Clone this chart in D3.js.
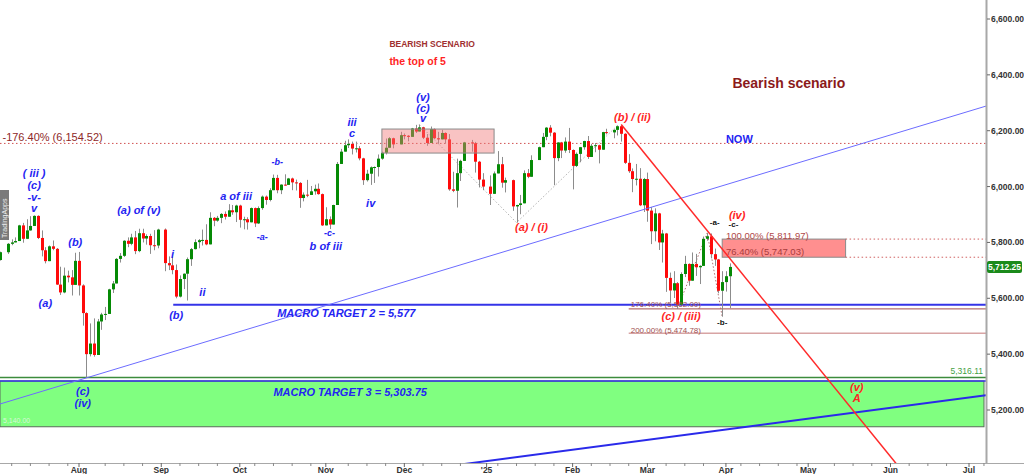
<!DOCTYPE html>
<html>
<head>
<meta charset="utf-8">
<script src="https://cdn.jsdelivr.net/npm/d3@7"></script>
<style>
  body { margin: 0; background: #fff; }
  svg { display: block; font-family: "Liberation Sans", Arial, sans-serif; }
</style>
</head>
<body>
<svg id="chart" width="1024" height="474"></svg>
<script>
// ---- data ----
var firstDay = "2024-07-01", lastDay = "2025-04-02";
var holidays = ["2024-07-04", "2024-09-02", "2024-11-28", "2024-12-25",
                "2025-01-01", "2025-01-09", "2025-01-20", "2025-02-17"];

// daily bars [open, high, low, close], one per trading day
var ohlc = [
  // Jul
  [5688,5718,5680,5703],[5703,5738,5679,5737],[5737,5767,5735,5765],[5765,5798,5759,5795],
  [5795,5811,5790,5800],[5800,5818,5800,5805],[5805,5863,5805,5861],[5861,5870,5799,5813],
  [5813,5883,5812,5843],[5843,5894,5842,5859],[5859,5897,5859,5895],[5895,5897,5812,5816],
  [5816,5843,5750,5772],[5772,5783,5725,5733],[5733,5789,5733,5786],[5786,5807,5772,5777],
  [5777,5780,5648,5649],[5649,5713,5612,5621],[5621,5710,5618,5681],[5681,5699,5657,5675],
  [5675,5701,5610,5648],[5648,5763,5648,5734],
  // Aug
  [5734,5766,5610,5646],[5646,5650,5502,5547],[5547,5550,5315,5400],[5400,5510,5392,5438],
  [5438,5528,5391,5397],[5397,5526,5397,5517],[5517,5548,5487,5542],[5542,5569,5522,5544],
  [5544,5634,5544,5632],[5632,5662,5619,5653],[5653,5744,5653,5741],[5741,5762,5728,5752],
  [5752,5808,5748,5806],[5806,5818,5783,5795],[5795,5831,5790,5818],[5818,5841,5758,5769],
  [5769,5849,5765,5833],[5833,5849,5800,5814],[5814,5829,5792,5823],[5823,5831,5759,5790],
  [5790,5844,5772,5789],[5789,5849,5779,5846],
  // Sep
  [5846,5850,5697,5726],[5726,5750,5701,5718],[5718,5749,5686,5701],[5701,5721,5600,5606],
  [5606,5682,5603,5669],[5669,5689,5633,5688],[5688,5746,5592,5740],[5740,5780,5716,5776],
  [5776,5811,5775,5801],[5801,5812,5779,5808],[5808,5846,5789,5809],[5809,5865,5790,5793],
  [5793,5908,5793,5888],[5888,5891,5858,5878],[5878,5895,5874,5888],[5888,5905,5869,5902],
  [5902,5911,5882,5892],[5892,5937,5892,5915],[5915,5934,5899,5908],[5908,5935,5873,5932],
  // Oct
  [5932,5935,5853,5881],[5881,5892,5847,5883],[5883,5890,5846,5872],[5872,5925,5872,5923],
  [5923,5925,5855,5868],[5868,5929,5866,5923],[5923,5968,5917,5964],[5964,5968,5935,5952],
  [5952,5994,5947,5987],[5987,6043,5987,6031],[6031,6042,5976,5987],[5987,6008,5973,6007],
  [6007,6044,6003,6006],[6006,6031,6006,6029],[6029,6032,5987,6015],[6015,6025,5986,6013],
  [6013,6016,5924,5959],[5959,5979,5947,5971],[5971,6024,5962,5970],[5970,6002,5970,5983],
  [5983,6007,5971,5992],[5992,6011,5971,5973],[5973,5975,5859,5861],
  // Nov
  [5861,5926,5861,5883],[5883,5893,5848,5864],[5864,5935,5864,5934],[5934,6088,5934,6081],
  [6081,6135,6081,6125],[6125,6164,6125,6148],[6148,6169,6138,6153],[6153,6161,6115,6136],
  [6136,6161,6122,6137],[6137,6145,6094,6101],[6101,6103,6006,6023],[6023,6060,6018,6046],
  [6046,6072,6006,6069],[6069,6072,6013,6070],[6070,6115,6036,6100],[6100,6125,6096,6121],
  [6121,6172,6115,6139],[6139,6177,6139,6173],[6173,6175,6137,6151],[6151,6196,6151,6184],
  // Dec
  [6184,6190,6169,6182],[6182,6184,6162,6178],[6178,6210,6178,6208],[6208,6221,6192,6197],
  [6197,6222,6197,6212],[6212,6214,6170,6175],[6175,6188,6146,6156],[6156,6215,6156,6206],
  [6206,6208,6170,6173],[6173,6196,6153,6169],[6169,6203,6169,6192],[6192,6194,6154,6169],
  [6169,6188,5985,5990],[5990,6053,5980,5985],[5985,6100,5925,6048],[6048,6096,6020,6092],
  [6092,6160,6092,6158],[6158,6167,6125,6155],[6155,6160,6050,6089],[6089,6092,5997,6025],
  [6025,6048,5987,6000],
  // Jan
  [6000,6040,5934,5974],[5974,6054,5974,6047],[6047,6127,6047,6080],[6080,6106,5996,6014],
  [6014,6032,5979,6023],[6023,6025,5913,5929],[5929,5935,5871,5934],[5934,5970,5901,5940],
  [5940,6058,5940,6048],[6048,6063,6030,6035],[6035,6112,6035,6095],[6095,6143,6095,6141],
  [6141,6192,6141,6178],[6178,6213,6166,6211],[6211,6220,6180,6193],[6193,6195,6005,6102],
  [6102,6159,6091,6158],[6158,6160,6102,6129],[6129,6176,6121,6161],[6161,6210,6120,6131],
  // Feb
  [6131,6133,5990,6074],[6074,6122,6070,6117],[6117,6142,6087,6141],[6141,6164,6132,6163],
  [6163,6181,6099,6106],[6106,6153,6106,6146],[6146,6156,6123,6148],[6148,6150,6083,6132],
  [6132,6196,6132,6195],[6195,6207,6187,6194],[6194,6205,6173,6203],[6203,6219,6183,6216],
  [6216,6218,6161,6189],[6189,6191,6081,6085],[6085,6116,6049,6055],[6055,6065,5980,6027],
  [6027,6081,6004,6028],[6028,6066,5930,5933],[5933,6031,5909,6027],
  // Mar
  [6027,6050,5874,5914],[5914,5927,5794,5840],[5840,5922,5804,5904],[5904,5906,5773,5800],
  [5800,5845,5728,5832],[5832,5834,5623,5673],[5673,5692,5584,5628],[5628,5697,5601,5654],
  [5654,5658,5562,5577],[5577,5693,5577,5687],[5687,5752,5676,5723],[5723,5725,5645,5663],
  [5663,5764,5663,5723],[5723,5759,5680,5711],[5711,5718,5651,5716],[5716,5821,5716,5813],
  [5813,5834,5806,5822],[5822,5832,5743,5758],[5758,5778,5716,5739],[5739,5741,5618,5627],
  [5627,5697,5534,5658],
  // Apr
  [5658,5697,5624,5679],[5679,5725,5565,5712.25]
];
var lastPrice = 5712.25;

var yTicks = [5200, 5400, 5600, 5800, 6000, 6200, 6400, 6600];
var monthLabels = ["Aug", "Sep", "Oct", "Nov", "Dec", "'25", "Feb", "Mar", "Apr", "May", "Jun", "Jul"];
var monthStarts = ["2024-08", "2024-09", "2024-10", "2024-11", "2024-12", "2025-01",
                   "2025-02", "2025-03", "2025-04", "2025-05", "2025-06", "2025-07"];

// levels
var fibTop = 6154.52;
var fibBox = [5811.97, 5747.03];
var fibExt = [5562.00, 5474.78];
var macro2 = 5577, macro3 = 5303.75, augLow = 5316.11, zoneLow = 5140;
var topBox = [6206, 6120];

// trend lines: two anchor points each [date, value]
var thinBlue = [["2024-08-05", 5315], ["2025-07-08", 6290]];
var thickBlue = [["2024-12-26", 5010], ["2025-07-08", 5254]];
var redLine = [["2025-02-20", 6222], ["2025-05-02", 5380]];
var waveDec = [["2024-12-06", 6222], ["2025-01-13", 5871], ["2025-02-19", 6219]];
var waveMar = [["2025-03-13", 5562], ["2025-03-25", 5834], ["2025-03-31", 5534]];

// wave labels [text, date, value]
var blueLabels = [
  ["( iii )", "2024-07-16", 6049], ["(c)", "2024-07-16", 6006], ["-v-", "2024-07-16", 5963], ["v", "2024-07-16", 5923],
  ["(b)", "2024-07-31", 5802], ["(a)", "2024-07-19", 5583], ["(a) of (v)", "2024-08-23", 5916],
  ["i", "2024-09-05", 5759], ["ii", "2024-09-17", 5623], ["(b)", "2024-09-06", 5540],
  ["(c)", "2024-08-02", 5268], ["(iv)", "2024-08-02", 5225],
  ["a of iii", "2024-09-30", 5966], ["b of iii", "2024-11-01", 5786],
  ["iii", "2024-11-12", 6231], ["c", "2024-11-12", 6192], ["iv", "2024-11-19", 5941],
  ["(v)", "2024-12-09", 6321], ["(c)", "2024-12-09", 6281], ["v", "2024-12-09", 6245]
];
var blueSmall = [["-a-", "2024-10-09", 5819], ["-b-", "2024-10-15", 6088], ["-c-", "2024-11-04", 5834]];
var redLabels = [
  ["(a) / (i)", "2025-01-17", 5855], ["(b) / (ii)", "2025-02-25", 6249],
  ["(c) / (iii)", "2025-03-14", 5537], ["(iv)", "2025-04-04", 5899],
  ["(v)", "2025-05-20", 5282], ["A", "2025-05-20", 5243]
];
var blackLabels = [["-a-", "2025-03-27", 5870], ["-c-", "2025-04-03", 5863], ["-b-", "2025-03-31", 5512]];

// ---- scales ----
var W = 1024, H = 474, axisX = 986, axisY = 463;
var parse = d3.timeParse("%Y-%m-%d"), fmt = d3.timeFormat("%Y-%m-%d");
var weekdays = d3.timeDays(parse("2024-06-24"), parse("2025-08-01"))
  .filter(function (d) { return d.getDay() % 6 !== 0; });
var pos = new Map();
weekdays.forEach(function (d, i) { pos.set(fmt(d), i); });
var i0 = pos.get("2024-08-01");
var x = d3.scaleLinear().domain([0, pos.get("2025-07-01") - i0]).range([79, 969]);
function X(s) { return x(pos.get(s) - i0); }
var y = d3.scaleLinear().domain([5200, 6600]).range([410, 19]);

var tradingDays = weekdays.map(fmt).filter(function (s) {
  return s >= firstDay && s <= lastDay && holidays.indexOf(s) < 0;
});
var bars = ohlc.map(function (c, i) {
  return { date: tradingDays[i], o: c[0], h: c[1], l: c[2], c: c[3] };
});

var svg = d3.select("#chart");
svg.append("defs").append("clipPath").attr("id", "plot")
  .append("rect").attr("x", 0).attr("y", 0).attr("width", axisX).attr("height", axisY);
var g = svg.append("g").attr("clip-path", "url(#plot)");

// ---- green target zone ----
g.append("rect")
  .attr("x", 0).attr("y", y(macro3))
  .attr("width", axisX - 2).attr("height", y(zoneLow) - y(macro3))
  .attr("fill", "#80ff80").attr("stroke", "#5a6a5a").attr("stroke-width", 1);
g.append("text").attr("x", 3).attr("y", y(zoneLow) - 4)
  .attr("font-size", 7).attr("fill", "#d8f8d8").text("5,140.00");
g.append("line").attr("x1", 0).attr("x2", axisX)
  .attr("y1", y(augLow)).attr("y2", y(augLow))
  .attr("stroke", "#3c8c3c").attr("stroke-width", 1.5);
g.append("line").attr("x1", 0).attr("x2", axisX)
  .attr("y1", y(macro3)).attr("y2", y(macro3))
  .attr("stroke", "#3434e8").attr("stroke-width", 1.5);
g.append("text").attr("x", axisX - 3).attr("y", y(augLow) - 4)
  .attr("text-anchor", "end").attr("font-size", 8.5).attr("fill", "#43a043")
  .text(d3.format(",.2f")(augLow));

// ---- horizontal levels ----
g.append("line").attr("x1", 0).attr("x2", axisX)
  .attr("y1", y(fibTop)).attr("y2", y(fibTop))
  .attr("stroke", "#d05050").attr("stroke-dasharray", "1.5,2.5");
g.append("line").attr("x1", X("2024-09-06") - 3).attr("x2", axisX)
  .attr("y1", y(macro2)).attr("y2", y(macro2))
  .attr("stroke", "#3434e8").attr("stroke-width", 2);
g.append("line").attr("x1", X("2025-02-24")).attr("x2", axisX)
  .attr("y1", y(fibExt[0])).attr("y2", y(fibExt[0]))
  .attr("stroke", "#a04a4a").attr("stroke-width", 1);
g.append("line").attr("x1", X("2025-02-24")).attr("x2", axisX)
  .attr("y1", y(fibExt[1])).attr("y2", y(fibExt[1]))
  .attr("stroke", "#d8a4a4").attr("stroke-width", 1.5);
fibBox.forEach(function (v) {
  g.append("line").attr("x1", X("2025-05-15")).attr("x2", axisX)
    .attr("y1", y(v)).attr("y2", y(v))
    .attr("stroke", "#d06060").attr("stroke-dasharray", "1.5,2.5");
});

// ---- wave dotted connectors ----
var wline = d3.line().x(function (d) { return X(d[0]); }).y(function (d) { return y(d[1]); });
g.append("path").attr("d", wline(waveDec)).attr("fill", "none")
  .attr("stroke", "#b4b4b4").attr("stroke-dasharray", "1.5,2");
g.append("path").attr("d", wline(waveMar)).attr("fill", "none")
  .attr("stroke", "#b07070").attr("stroke-dasharray", "1.5,2");

// ---- candles ----
var cg = g.append("g");
var bw = 3;
cg.selectAll("line.wick").data(bars).enter().append("line")
  .attr("x1", function (d) { return Math.round(X(d.date)) + 0.5; })
  .attr("x2", function (d) { return Math.round(X(d.date)) + 0.5; })
  .attr("y1", function (d) { return y(d.h); })
  .attr("y2", function (d) { return y(d.l); })
  .attr("stroke", "#8c8c8c").attr("stroke-width", 1);
cg.selectAll("rect.body").data(bars).enter().append("rect")
  .attr("x", function (d) { return Math.round(X(d.date)) - 1; })
  .attr("width", bw)
  .attr("y", function (d) { return y(Math.max(d.o, d.c)); })
  .attr("height", function (d) { return Math.max(1, Math.abs(y(d.o) - y(d.c))); })
  .attr("fill", function (d) { return d.c >= d.o ? "#058a05" : "#ff0a0a"; });

// ---- boxes ----
g.append("rect")
  .attr("x", X("2024-11-22")).attr("y", y(topBox[0]))
  .attr("width", X("2025-01-03") - X("2024-11-22")).attr("height", y(topBox[1]) - y(topBox[0]))
  .attr("fill", "#f27a7a").attr("fill-opacity", 0.45).attr("stroke", "#8a8a8a");
g.append("rect")
  .attr("x", X("2025-03-31")).attr("y", y(fibBox[0]))
  .attr("width", X("2025-05-15") - X("2025-03-31")).attr("height", y(fibBox[1]) - y(fibBox[0]))
  .attr("fill", "#ff6a6a").attr("fill-opacity", 0.75).attr("stroke", "#8a8a8a");

// ---- trend lines ----
function extended(pts, xFrom, xTo) {
  var xa = X(pts[0][0]), ya = y(pts[0][1]), xb = X(pts[1][0]), yb = y(pts[1][1]);
  var k = (yb - ya) / (xb - xa);
  return [[xFrom, ya + k * (xFrom - xa)], [xTo, ya + k * (xTo - xa)]];
}
var tl = d3.line();
g.append("path").attr("d", tl(extended(thinBlue, 0, axisX)))
  .attr("stroke", "#6c6cff").attr("stroke-width", 1).attr("fill", "none");
g.append("path").attr("d", tl(extended(thickBlue, 0, axisX)))
  .attr("stroke", "#2a2aea").attr("stroke-width", 2).attr("fill", "none");
g.append("path").attr("d", tl(extended(redLine, X(redLine[0][0]), axisX)))
  .attr("stroke", "#ff2a2a").attr("stroke-width", 1.5).attr("fill", "none");

// ---- text annotations ----
function addLabels(list, size, color, italic) {
  svg.append("g").selectAll("text").data(list).enter().append("text")
    .attr("x", function (d) { return X(d[1]); })
    .attr("y", function (d) { return y(d[2]); })
    .attr("text-anchor", "middle").attr("dominant-baseline", "central")
    .attr("font-size", size).attr("font-weight", "bold")
    .attr("font-style", italic ? "italic" : "normal")
    .attr("fill", color).text(function (d) { return d[0]; });
}
addLabels(blueLabels, 11, "#2424f2", true);
addLabels(blueSmall, 9, "#2424f2", true);
addLabels(redLabels, 11, "#ff2424", true);
addLabels(blackLabels, 8, "#111", false);

function note(txt, date, val, opt) {
  var t = svg.append("text").attr("x", X(date) + (opt.dx || 0)).attr("y", y(val))
    .attr("dominant-baseline", "central")
    .attr("font-size", opt.size).attr("fill", opt.color).text(txt);
  if (opt.bold) t.attr("font-weight", "bold");
  if (opt.italic) t.attr("font-style", "italic");
  if (opt.anchor) t.attr("text-anchor", opt.anchor);
  return t;
}
note("-176.40% (" + d3.format(",.2f")(fibTop) + ")", "2024-07-03", 6178, { size: 11, color: "#8e2828", dx: 2 });
note("BEARISH SCENARIO", "2024-11-26", 6510, { size: 8.5, color: "#a03030", bold: true });
note("the top of 5", "2024-11-26", 6450, { size: 10.5, color: "#ff2424", bold: true });
note("Bearish scenario", "2025-04-03", 6371, { size: 14, color: "#8b1a1a", bold: true, dx: -1 });
note("NOW", "2025-04-01", 6170, { size: 11, color: "#2424f2", bold: true });
note("100.00% (" + d3.format(",.2f")(fibBox[0]) + ")", "2025-04-01", 5826, { size: 9.5, color: "#b04848" });
note("76.40% (" + d3.format(",.2f")(fibBox[1]) + ")", "2025-04-01", 5769, { size: 9.5, color: "#a83c3c" });
note("176.40% (" + d3.format(",.2f")(fibExt[0]) + ")", "2025-02-24", 5576, { size: 8, color: "#a05050", dx: 2 });
note("200.00% (" + d3.format(",.2f")(fibExt[1]) + ")", "2025-02-24", 5486, { size: 8, color: "#a05050", dx: 2 });
note("MACRO TARGET 2 = " + d3.format(",")(macro2), "2024-10-15", 5547, { size: 11, color: "#2424f2", bold: true, italic: true });
note("MACRO TARGET 3 = " + d3.format(",.2f")(macro3), "2024-10-14", 5264, { size: 11, color: "#2424f2", bold: true, italic: true });

// watermark
var wm = svg.append("g").attr("transform", "translate(0,190)");
wm.append("rect").attr("width", 9).attr("height", 50).attr("fill", "#7a7a7a");
wm.append("text").attr("transform", "translate(6.5,48) rotate(-90)")
  .attr("font-size", 7).attr("fill", "#f0f0f0").text("TradingApps");

// ---- axes ----
svg.append("line").attr("x1", axisX + 0.5).attr("x2", axisX + 0.5).attr("y1", 0).attr("y2", axisY)
  .attr("stroke", "#a8a8a8").attr("stroke-width", 2);
svg.append("line").attr("x1", 0).attr("x2", W).attr("y1", axisY + 0.5).attr("y2", axisY + 0.5)
  .attr("stroke", "#a8a8a8").attr("stroke-width", 1);

var ya = svg.append("g").selectAll("g").data(yTicks).enter().append("g")
  .attr("transform", function (d) { return "translate(" + axisX + "," + y(d) + ")"; });
ya.append("line").attr("x1", 1).attr("x2", 4).attr("stroke", "#666");
ya.append("text").attr("x", 5).attr("dominant-baseline", "central")
  .attr("font-size", 8.5).attr("font-weight", "bold").attr("fill", "#333")
  .text(function (d) { return d3.format(",.2f")(d); });

// last price tag
var tag = svg.append("g").attr("transform", "translate(" + (axisX + 1) + "," + y(lastPrice) + ")");
tag.append("rect").attr("x", 0).attr("y", -6).attr("width", 35).attr("height", 12)
  .attr("rx", 2).attr("fill", "#1b8a1b");
tag.append("text").attr("x", 17.5).attr("text-anchor", "middle").attr("dominant-baseline", "central")
  .attr("font-size", 8.5).attr("font-weight", "bold").attr("fill", "#fff")
  .text(d3.format(",.2f")(lastPrice));

// month ticks: first weekday of each month
var monthX = monthStarts.map(function (m) {
  var s = weekdays.map(fmt).filter(function (d) { return d.slice(0, 7) === m; })[0];
  return X(s);
});
var xa = svg.append("g");
weekdays.forEach(function (d) {
  if (d.getDay() !== 1) return;
  var px = X(fmt(d));
  if (px < 0 || px > axisX) return;
  var near = monthX.some(function (m) { return Math.abs(m - px) < 9; });
  if (near) return;
  xa.append("line").attr("x1", px).attr("x2", px).attr("y1", axisY).attr("y2", axisY + 3).attr("stroke", "#888");
});
monthX.forEach(function (px, i) {
  xa.append("line").attr("x1", px).attr("x2", px).attr("y1", axisY).attr("y2", axisY + 4).attr("stroke", "#666");
  xa.append("text").attr("x", px).attr("y", 473).attr("text-anchor", "middle")
    .attr("font-size", 8.5).attr("font-weight", "bold").attr("fill", "#333").text(monthLabels[i]);
});
</script>
</body>
</html>
